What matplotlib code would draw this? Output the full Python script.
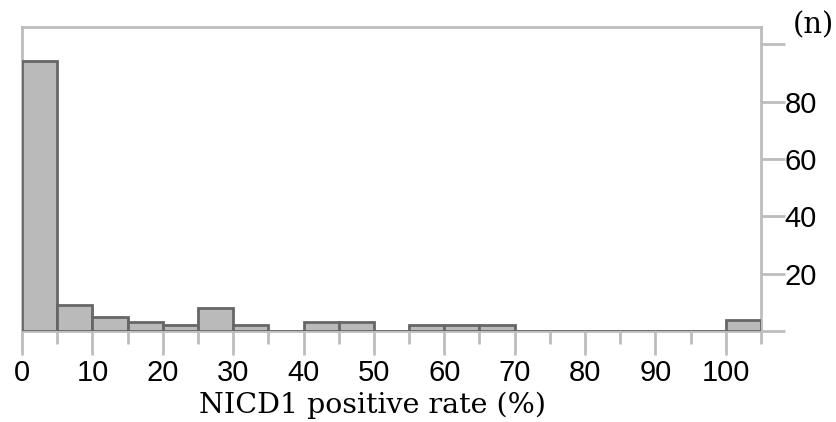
import numpy as np
import matplotlib.pyplot as plt
from matplotlib.ticker import MultipleLocator

# histogram of NICD1 positive rate, 5% bins
bin_edges = [0, 5, 10, 15, 20, 25, 30, 35, 40, 45, 50, 55, 60, 65, 70, 75, 80, 85, 90, 95, 100, 105]
counts = [94, 9, 5, 3, 2, 8, 2, 0, 3, 3, 0, 2, 2, 2, 0, 0, 0, 0, 0, 0, 4]

x_ticks = [0, 10, 20, 30, 40, 50, 60, 70, 80, 90, 100]
y_ticks = [20, 40, 60, 80]
x_label = "NICD1 positive rate (%)"
y_unit = "(n)"

W, H = 837, 422
fig = plt.figure(figsize=(W / 100, H / 100), dpi=100)
ax = fig.add_axes([22 / W, 1 - 331 / H, (761 - 22) / W, (331 - 27) / H])

axis_gray = "#bdbdbd"
ax.bar(bin_edges[:-1], counts, width=np.diff(bin_edges), align="edge",
       color="#bababa", edgecolor="#666666", linewidth=2, zorder=3)

ax.set_xlim(0, 105)
ax.set_ylim(0, 106)

for s in ax.spines.values():
    s.set_color(axis_gray)
    s.set_linewidth(2)

ax.xaxis.set_minor_locator(MultipleLocator(5))
ax.set_xticks(x_ticks)
ax.tick_params(axis="x", which="major", length=17, width=2, color=axis_gray,
               labelsize=21, pad=3)
ax.tick_params(axis="x", which="minor", length=9, width=2, color=axis_gray)
for lab in ax.get_xticklabels():
    lab.set_family("Liberation Sans")

ax.yaxis.tick_right()
ax.set_yticks([0] + y_ticks + [100])
ax.set_yticklabels([""] + [str(v) for v in y_ticks] + [""])
ax.tick_params(axis="y", which="major", length=17, width=2, color=axis_gray,
               labelsize=21, pad=0, left=False, right=True)
for lab in ax.get_yticklabels():
    lab.set_family("Liberation Sans")

ax.set_xlabel(x_label, family="DejaVu Serif", fontsize=20.5)
ax.xaxis.set_label_coords((373 - 22) / (761 - 22), -(413 - 331) / (331 - 27))
ax.xaxis.label.set_va("baseline")
fig.text(793 / W, 1 - 25 / H, y_unit, family="DejaVu Serif", fontsize=21,
         ha="left", va="center")

fig.savefig("out.png", dpi=100)
